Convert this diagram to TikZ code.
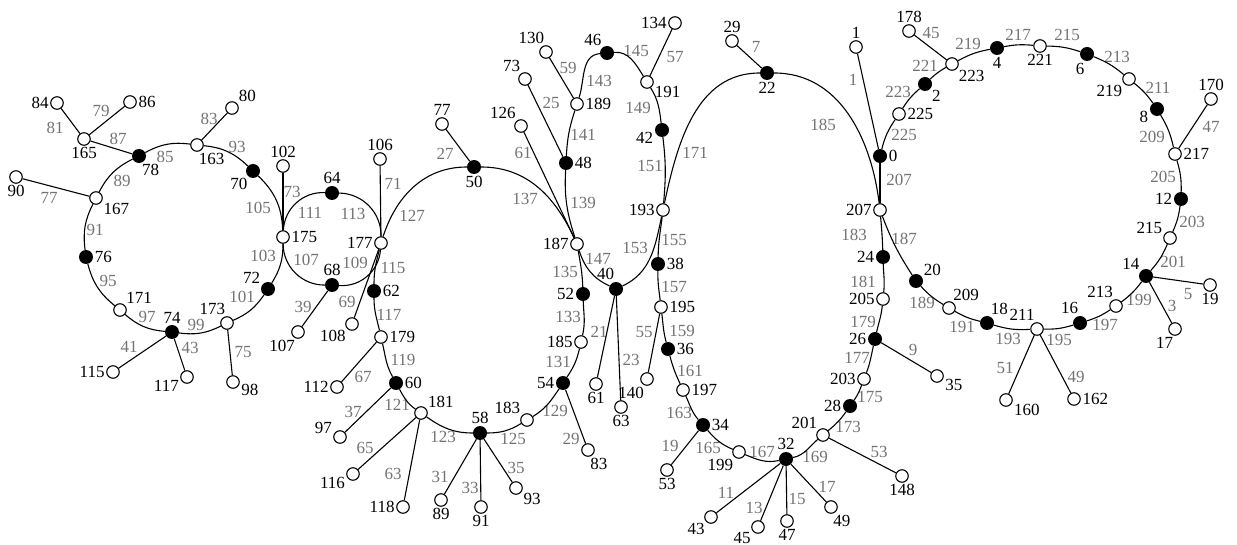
\documentclass[tikz,border=0pt]{standalone}
\usepackage{fontspec}
\setmainfont{Liberation Serif}
\usepackage{tikz}

\begin{document}
\begin{tikzpicture}[
    x=1pt, y=1pt,
    font=\fontsize{17}{17}\selectfont,
    wn/.style={draw, circle, fill=white, line width=1.1pt, inner sep=0pt, minimum size=12.5pt},
    bn/.style={circle, fill=black, inner sep=0pt, minimum size=14pt},
    lab/.style={inner sep=1pt},
    el/.style={text=black!55, inner sep=0pt},
    link/.style={line width=1.1pt},
    label distance=0.5pt
]
\useasboundingbox (0,0) rectangle (1237,-545);

\foreach \n/\x/\y/\s/\a in {
    84/57/103/wn/180, 86/130/102/wn/0, 165/84/139/wn/-90, 78/139/156/bn/-75,
    163/197/145/wn/-85, 80/232/108/wn/40, 90/16/177/wn/-90, 167/96/198/wn/-30,
    76/86/257/bn/0, 171/120/310/wn/45, 74/172/332/bn/90, 115/113/372/wn/180,
    117/187/377/wn/195, 173/227/323/wn/95, 98/233/382/wn/-10, 72/268/289/bn/150,
    70/253/171/bn/-125, 175/283/237/wn/0, 102/283/166/wn/90,
    64/332/193/bn/90, 68/332/285/bn/90, 177/381/243/wn/180, 106/380/159/wn/90,
    107/298/332/wn/-105, 108/352/324/wn/-135, 62/374/291/bn/0,
    179/381/337/wn/0, 112/337/387/wn/180, 60/396/383/bn/0, 97/340/437/wn/165,
    181/421/413/wn/35, 116/353/474/wn/200, 118/403/507/wn/180, 58/480/433/bn/90,
    89/441/500/wn/-90, 91/481/507/wn/-90, 93/516/488/wn/-30, 183/527/420/wn/140,
    54/563/383/bn/180, 83/588/450/wn/-80, 185/581/342/wn/180, 52/583/294/bn/180,
    187/577/244/wn/180, 50/474/167/bn/-90, 77/442/124/wn/90,
    126/521/126/wn/125, 73/525/79/wn/120, 48/566/163/bn/0, 189/577/104/wn/0,
    130/546/52/wn/95, 46/607/53/bn/125, 191/647/82/wn/-25, 134/675/23/wn/180,
    42/662/130/bn/190, 193/663/210/wn/180, 40/616/289/bn/95, 61/596/384/wn/-90,
    63/621/407/wn/-90, 22/767/73/bn/-90, 29/732/41/wn/90,
    38/658/264/bn/0, 195/661/307/wn/0, 140/647/379/wn/-105, 36/668/349/bn/0,
    197/683/390/wn/0, 34/703/425/bn/0, 53/667/470/wn/-90, 199/739/452/wn/-130,
    32/786/459/bn/90, 43/711/517/wn/-135, 45/758/527/wn/212, 47/787/521/wn/-90,
    49/831/507/wn/-80, 201/823/435/wn/130, 148/902/476/wn/-90, 28/850/406/bn/180,
    203/864/379/wn/180, 26/875/339/bn/180, 35/937/376/wn/-15, 205/883/299/wn/180,
    24/883/257/bn/180, 207/880/210/wn/180,
    0/880/156/bn/0, 1/856/47/wn/90, 225/899/114/wn/0, 2/925/84/bn/-40,
    223/952/64/wn/-40, 178/909/31/wn/90, 4/997/48/bn/-90, 221/1040/46/wn/-90,
    6/1087/54/bn/-100, 219/1129/79/wn/-140, 8/1157/109/bn/185, 217/1175/154/wn/0,
    170/1211/99/wn/90, 12/1181/199/bn/180, 215/1170/238/wn/155, 14/1146/276/bn/135,
    19/1210/285/wn/-90, 17/1175/329/wn/-95, 213/1116/306/wn/105, 16/1080/323/bn/95,
    211/1037/329/wn/100, 160/1006/400/wn/-20, 162/1074/399/wn/0, 18/987/323/bn/70,
    209/949/308/wn/65, 20/916/281/bn/30}
    \node[\s, label={[lab]\a:\n}] (v\n) at (\x,-\y) {};

\foreach \t/\x/\y in {
    81/55/128, 79/101/111, 87/118/139, 85/165/157, 83/209/119, 89/122/181,
    77/49/198, 91/95/230, 95/108/281, 97/147/317, 99/196/325, 41/129/347,
    43/190/348, 75/243/352, 101/242/297, 103/263/256, 105/258/208, 93/237/147,
    73/292/192, 111/310/213, 113/353/214, 107/306/260, 109/355/263, 39/303/307,
    69/347/302, 71/393/184, 115/393/268, 117/389/315, 119/403/360, 67/363/377,
    121/397/405, 37/353/412, 65/365/448, 63/393/474, 123/443/437, 125/513/439,
    31/440/477, 33/470/488, 35/516/468, 129/555/411, 131/558/362, 133/568/317,
    135/565/272, 29/571/439, 127/412/216, 27/445/154, 137/525/199, 61/523/153,
    59/568/68, 143/599/81, 25/551/103, 141/583/135, 139/583/203, 147/598/259,
    145/636/51, 57/675/57, 149/638/108, 151/650/166, 153/635/248, 21/599/332,
    23/631/360, 171/695/153, 7/756/47, 185/823/125, 155/674/240, 157/674/287,
    55/644/332, 159/682/331, 161/690/371, 163/679/413, 19/670/446, 165/708/448,
    167/762/452, 169/815/457, 11/726/493, 13/754/508, 15/797/499, 17/827/487,
    173/848/427, 53/879/452, 175/870/397, 177/857/358, 9/913/350, 179/863/322,
    181/863/282, 183/854/235, 207/899/180, 1/853/80, 225/904/135, 223/898/92,
    221/925/66, 45/931/33, 219/968/44, 217/1018/35, 215/1067/35, 213/1117/57,
    211/1158/88, 209/1152/137, 47/1211/127, 205/1163/177, 203/1192/222,
    201/1173/262, 5/1188/294, 3/1172/306, 199/1139/300, 197/1105/325,
    195/1059/340, 193/1008/339, 51/1005/368, 49/1076/377, 191/962/327,
    189/922/303, 187/904/239}
    \node[el] (e\t) at (\x,-\y) {\t};

\foreach \a/\b in {165/84, 165/86, 78/165, 167/90, 163/80, 74/115, 74/117,
    173/98, 175/102, 68/107, 177/106, 177/108, 50/77, 187/126, 48/73, 189/130,
    191/134, 40/61, 40/63, 179/112, 60/97, 181/116, 181/118, 58/89, 58/91,
    58/93, 54/83, 22/29, 195/140, 34/53, 32/43, 32/45, 32/47, 32/49, 201/148,
    26/35, 0/1, 223/178, 217/170, 14/19, 14/17, 211/160, 211/162, 207/0}
    \draw[link] (v\a) -- (v\b);

\foreach \a/\b/\k in {78/163/18, 163/70/19, 70/175/22, 175/72/16, 72/173/16,
    173/74/17, 74/171/18, 171/76/18, 76/167/17, 167/78/18,
    175/64/45, 64/177/45, 177/68/45, 68/175/45,
    0/225/10, 225/2/8, 2/223/7, 223/4/9, 4/221/8, 221/6/9, 6/219/9, 219/8/8,
    8/217/9, 217/12/9, 12/215/8, 215/14/9, 14/213/8, 213/16/8, 16/211/9,
    211/18/10, 18/209/8, 209/20/8, 20/207/6}
    \draw[link] (v\a) to[bend left=\k] (v\b);

\foreach \a/\b/\o/\i in {177/50/72/180, 50/187/0/115, 193/22/78/180, 22/207/0/97,
    177/62/-104/90, 62/179/-90/103, 179/60/-77/119, 60/181/-61/145,
    181/58/-35/180, 58/183/0/211, 183/54/31/236, 54/185/56/257,
    185/52/77/272, 52/187/92/280,
    187/48/108/-93, 48/189/87/252, 189/46/72/185, 46/191/5/122,
    191/42/-58/97, 42/193/-83/85, 193/40/-102/25, 40/187/155/-72,
    193/38/-97/89, 38/195/-91/97, 195/36/-83/105, 36/197/-75/115,
    197/34/-65/131, 34/199/-49/157, 199/32/-23/192, 32/201/12/220,
    201/28/40/235, 28/203/55/249, 203/26/69/257, 26/205/77/264,
    205/24/84/272, 24/207/92/275}
    \draw[link] (v\a) to[out=\o, in=\i] (v\b);

\end{tikzpicture}
\end{document}
